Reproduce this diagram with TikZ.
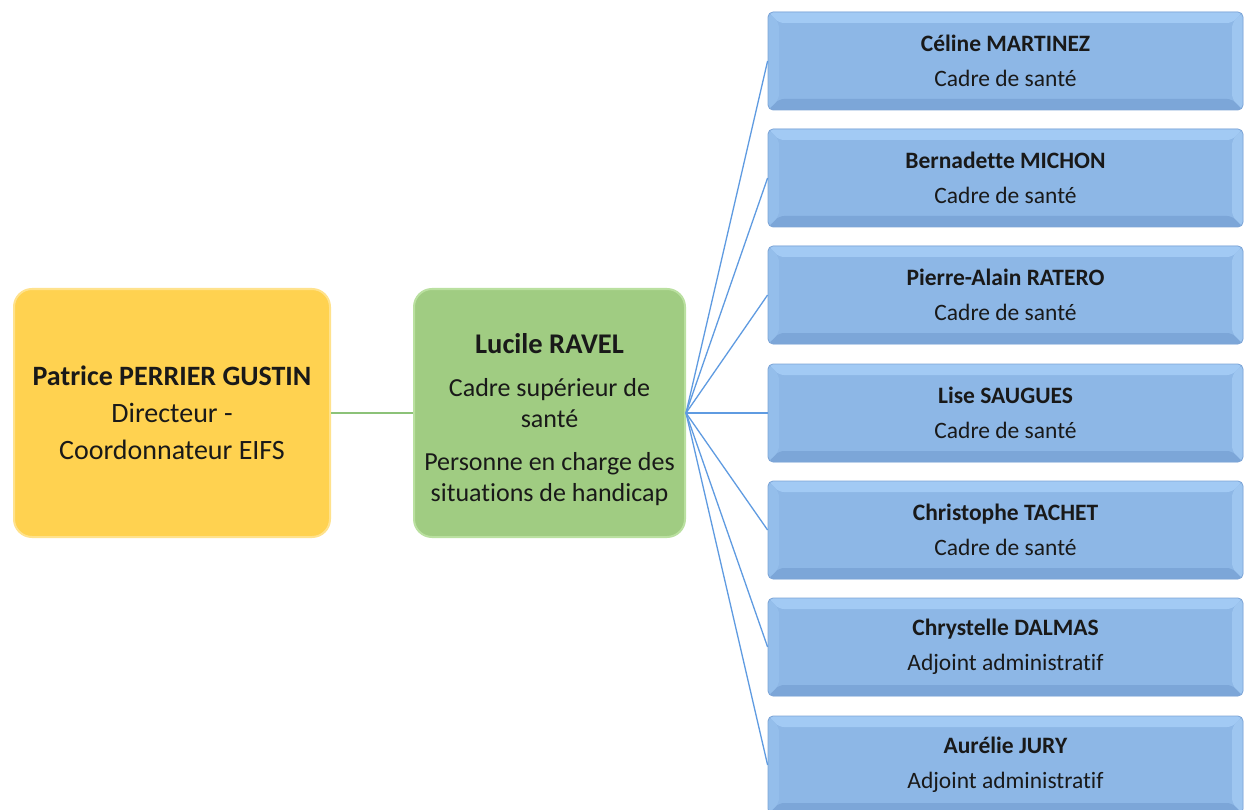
\documentclass[tikz,border=0pt]{standalone}
\usepackage{fontspec}
\setmainfont[RawFeature={-liga;-clig;-dlig}]{Carlito}
\usetikzlibrary{calc}
\definecolor{ylwfill}{RGB}{255,210,80}
\definecolor{ylwedge}{RGB}{255,226,140}
\definecolor{grnfill}{RGB}{160,204,130}
\definecolor{grnedge}{RGB}{186,224,160}
\definecolor{bluefill}{RGB}{141,183,230}
\definecolor{bluetop}{RGB}{162,202,244}
\definecolor{blueleft}{RGB}{148,190,235}
\definecolor{blueright}{RGB}{158,198,240}
\definecolor{bluebot}{RGB}{124,166,216}
\definecolor{blueedge}{RGB}{125,165,215}
\definecolor{grnline}{RGB}{140,194,120}
\definecolor{blueline}{RGB}{95,155,225}
\definecolor{txt}{RGB}{25,25,25}
\tikzset{
  bigbox/.style={rounded corners=18pt, minimum width=316pt, minimum height=248pt, align=center, text=txt, inner sep=0pt},
  ylwbox/.style={bigbox, fill=ylwfill, draw=ylwedge, line width=2pt, font=\fontsize{28}{37}\selectfont},
  grnbox/.style={bigbox, fill=grnfill, draw=grnedge, line width=2pt, minimum width=271pt, font=\fontsize{26}{31}\selectfont},
  bluebox/.style={rounded corners=5pt, minimum width=475pt, minimum height=98pt, align=center, text=txt, inner sep=0pt,
    font=\fontsize{23.5}{35}\selectfont,
    fill=bluefill, draw=blueedge, line width=0.8pt,
    path picture={
      \fill[bluetop] (path picture bounding box.north west) -- (path picture bounding box.north east) -- ++(-11,11) -- ($(path picture bounding box.north west)+(11,11)$) -- cycle;
      \fill[bluebot] (path picture bounding box.south west) -- (path picture bounding box.south east) -- ++(-11,-11) -- ($(path picture bounding box.south west)+(11,-11)$) -- cycle;
      \fill[blueleft] (path picture bounding box.north west) -- (path picture bounding box.south west) -- ++(11,-11) -- ($(path picture bounding box.north west)+(11,11)$) -- cycle;
      \fill[blueright] (path picture bounding box.north east) -- (path picture bounding box.south east) -- ++(-11,-11) -- ($(path picture bounding box.north east)+(-11,11)$) -- cycle;
    }},
  gline/.style={draw=grnline, line width=1.3pt},
  bline/.style={draw=blueline, line width=1.3pt},
}
\begin{document}
\begin{tikzpicture}[x=1pt,y=-1pt]
\useasboundingbox[fill=white] (0,0) rectangle (1247,810);
\begin{scope}
\clip (0,0) rectangle (1247,810);
\node[ylwbox] (pp) at (172,413) {\textbf{Patrice PERRIER GUSTIN}\\Directeur -\\Coordonnateur EIFS};
\node[grnbox] (lr) at (549.5,413) {{\fontsize{28.5}{31}\selectfont\rule{0pt}{34pt}\textbf{Lucile RAVEL}}\\[12pt]Cadre supérieur de\\santé\\[12pt]Personne en charge des\\situations de handicap};
\node[bluebox] (b1) at (1005.5,61) {\textbf{Céline MARTINEZ}\\Cadre de santé};
\node[bluebox] (b2) at (1005.5,178) {\textbf{Bernadette MICHON}\\Cadre de santé};
\node[bluebox] (b3) at (1005.5,295) {\textbf{Pierre-Alain RATERO}\\Cadre de santé};
\node[bluebox] (b4) at (1005.5,413) {\textbf{Lise SAUGUES}\\Cadre de santé};
\node[bluebox] (b5) at (1005.5,530) {\textbf{Christophe TACHET}\\Cadre de santé};
\node[bluebox] (b6) at (1005.5,647) {\textbf{Chrystelle DALMAS}\\Adjoint administratif};
\node[bluebox] (b7) at (1005.5,765) {\textbf{Aurélie JURY}\\Adjoint administratif};
\draw[gline] (pp.east) -- (lr.west);
\foreach \b in {b1,b2,b3,b4,b5,b6,b7}{\draw[bline] (lr.east) -- (\b.west);}
\end{scope}
\end{tikzpicture}
\end{document}
